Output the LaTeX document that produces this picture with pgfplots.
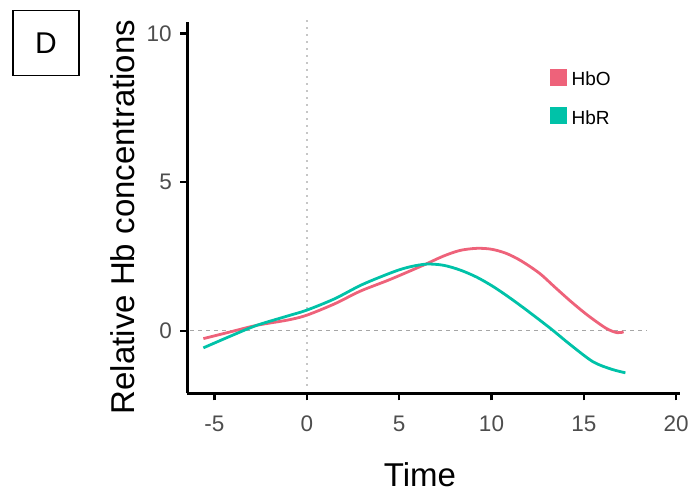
\documentclass[border=0pt]{standalone}
\usepackage{fontspec}
\setmainfont{Liberation Sans}
\usepackage{pgfplots}
\pgfplotsset{compat=1.18}
\definecolor{hbo}{RGB}{238,98,122}
\definecolor{hbr}{RGB}{0,194,168}
\definecolor{ticktxt}{RGB}{77,77,77}

\begin{document}
\begin{tikzpicture}
\path[use as bounding box] (-187.3pt,-103.7pt) rectangle (502.7pt,393.3pt);
\begin{axis}[
  at={(0,0)}, anchor=south west,
  scale only axis, width=492.6pt, height=371.6pt,
  xmin=-6.47, xmax=20.2, ymin=-2.11, ymax=10.4,
  axis x line=bottom, axis y line=left,
  axis line style={-, black, line width=2.6pt},
  xtick={-5,0,5,10,15,20}, ytick={0,5,10},
  tick align=outside, major tick length=7pt,
  tick style={black, line width=2.2pt},
  /pgf/number format/assume math mode=true,
  ticklabel style={font=\fontsize{22.5}{27}\selectfont, text=ticktxt},
  xticklabel style={yshift=-12pt},
  yticklabel style={xshift=-5pt},
  clip=false,
  legend style={draw=none, fill=none, at={(rel axis cs:0.7357,0.872)}, anchor=north west,
    inner sep=0pt, font=\fontsize{19}{22}\selectfont, row sep=20pt,
    nodes={inner sep=0pt},
    /tikz/every odd column/.append style={column sep=5pt}},
  legend cell align=left,
]
\addplot[gray!70, dash pattern=on 4pt off 4pt, line width=1.3pt, forget plot]
  coordinates {(-6.3,0) (18.4,0)};
\addplot[gray!45, dash pattern=on 2pt off 5pt, line width=1.6pt, forget plot]
  coordinates {(0,-1.85) (0,10.45)};
\addplot[hbo, line width=2.8pt, smooth,
  legend image code/.code={\fill[hbo] (0pt,-5pt) rectangle (14pt,9pt);}]
  coordinates {(-5.6,-0.27) (-4,-0.02) (-2.7,0.18) (-1,0.36) (0,0.52) (1.5,0.9)
    (2.9,1.33) (4.5,1.72) (6.3,2.2) (7.4,2.51) (8.3,2.7) (9.2,2.77) (10,2.74)
    (10.8,2.6) (11.6,2.35) (12.6,1.93) (13.4,1.48) (14.3,0.98) (15.2,0.52)
    (16.2,0.08) (16.8,-0.07) (17.15,-0.04)};
\addlegendentry{HbO}
\addplot[hbr, line width=2.8pt, smooth,
  legend image code/.code={\fill[hbr] (0pt,-5pt) rectangle (14pt,9pt);}]
  coordinates {(-5.6,-0.58) (-4,-0.15) (-2.7,0.18) (-1,0.5) (0,0.69) (1.5,1.07)
    (3,1.55) (4.7,1.98) (5.6,2.15) (6.5,2.24) (7.4,2.2) (8.3,2.04) (9.2,1.8)
    (10.1,1.48) (11,1.1) (11.9,0.69) (13.2,0.07) (14.3,-0.49) (15.5,-1.05)
    (16.5,-1.3) (17.25,-1.42)};
\addlegendentry{HbR}
\end{axis}
\node[anchor=base, inner sep=0pt, font=\fontsize{33}{38}\selectfont]
  at (232.7pt,-93.4pt) {Time};
\node[rotate=90, anchor=base, inner sep=0pt, font=\fontsize{33}{38}\selectfont]
  at (-52.3pt,176.3pt) {Relative Hb concentrations};
\node[draw, line width=1.5pt, minimum width=66pt, minimum height=65pt,
  font=\fontsize{30}{34}\selectfont] at (-141.3pt,350.3pt) {D};
\end{tikzpicture}
\end{document}
